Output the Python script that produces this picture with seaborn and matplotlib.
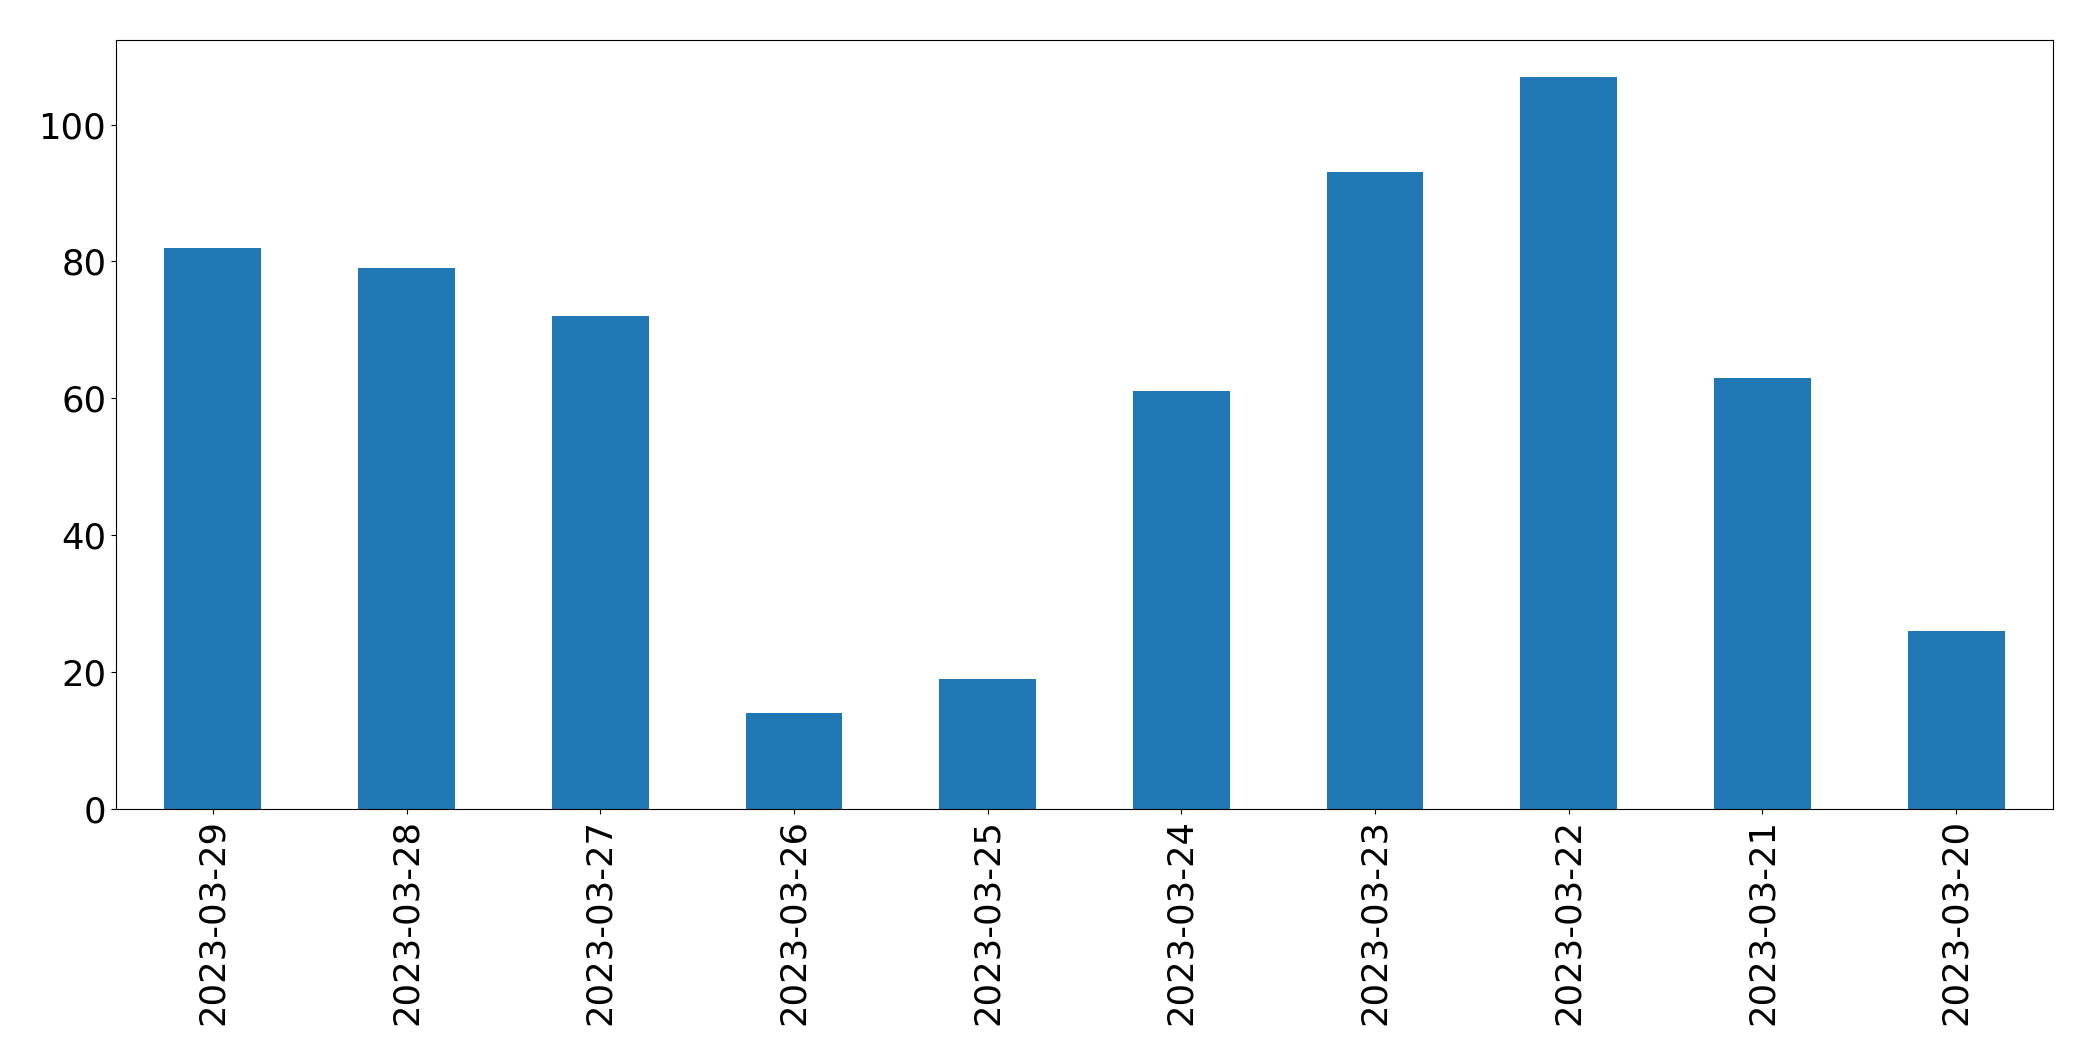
import matplotlib
matplotlib.use("Agg")
import matplotlib.pyplot as plt
import seaborn as sns
import pandas as pd

dates = ["2023-03-29", "2023-03-28", "2023-03-27", "2023-03-26", "2023-03-25",
         "2023-03-24", "2023-03-23", "2023-03-22", "2023-03-21", "2023-03-20"]
counts = [82, 79, 72, 14, 19, 61, 93, 107, 63, 26]

df = pd.DataFrame({"date": dates, "count": counts})

fig = plt.figure(figsize=(20.93, 10.61), dpi=100)
ax = fig.add_axes([116/2093, 1 - 809/1061, (2053-116)/2093, (809-40)/1061])
sns.barplot(data=df, x="date", y="count", order=dates, color="#1f77b4",
            saturation=1, width=0.5, linewidth=0, ax=ax)
ax.set_xlim(-0.5, len(dates) - 0.5)
ax.set_ylim(0, max(counts) * 1.05)
ax.set_xlabel("")
ax.set_ylabel("")
ax.tick_params(axis="both", labelsize=25.5)
plt.setp(ax.get_xticklabels(), rotation=90)
fig.savefig("out.png", dpi=100)
